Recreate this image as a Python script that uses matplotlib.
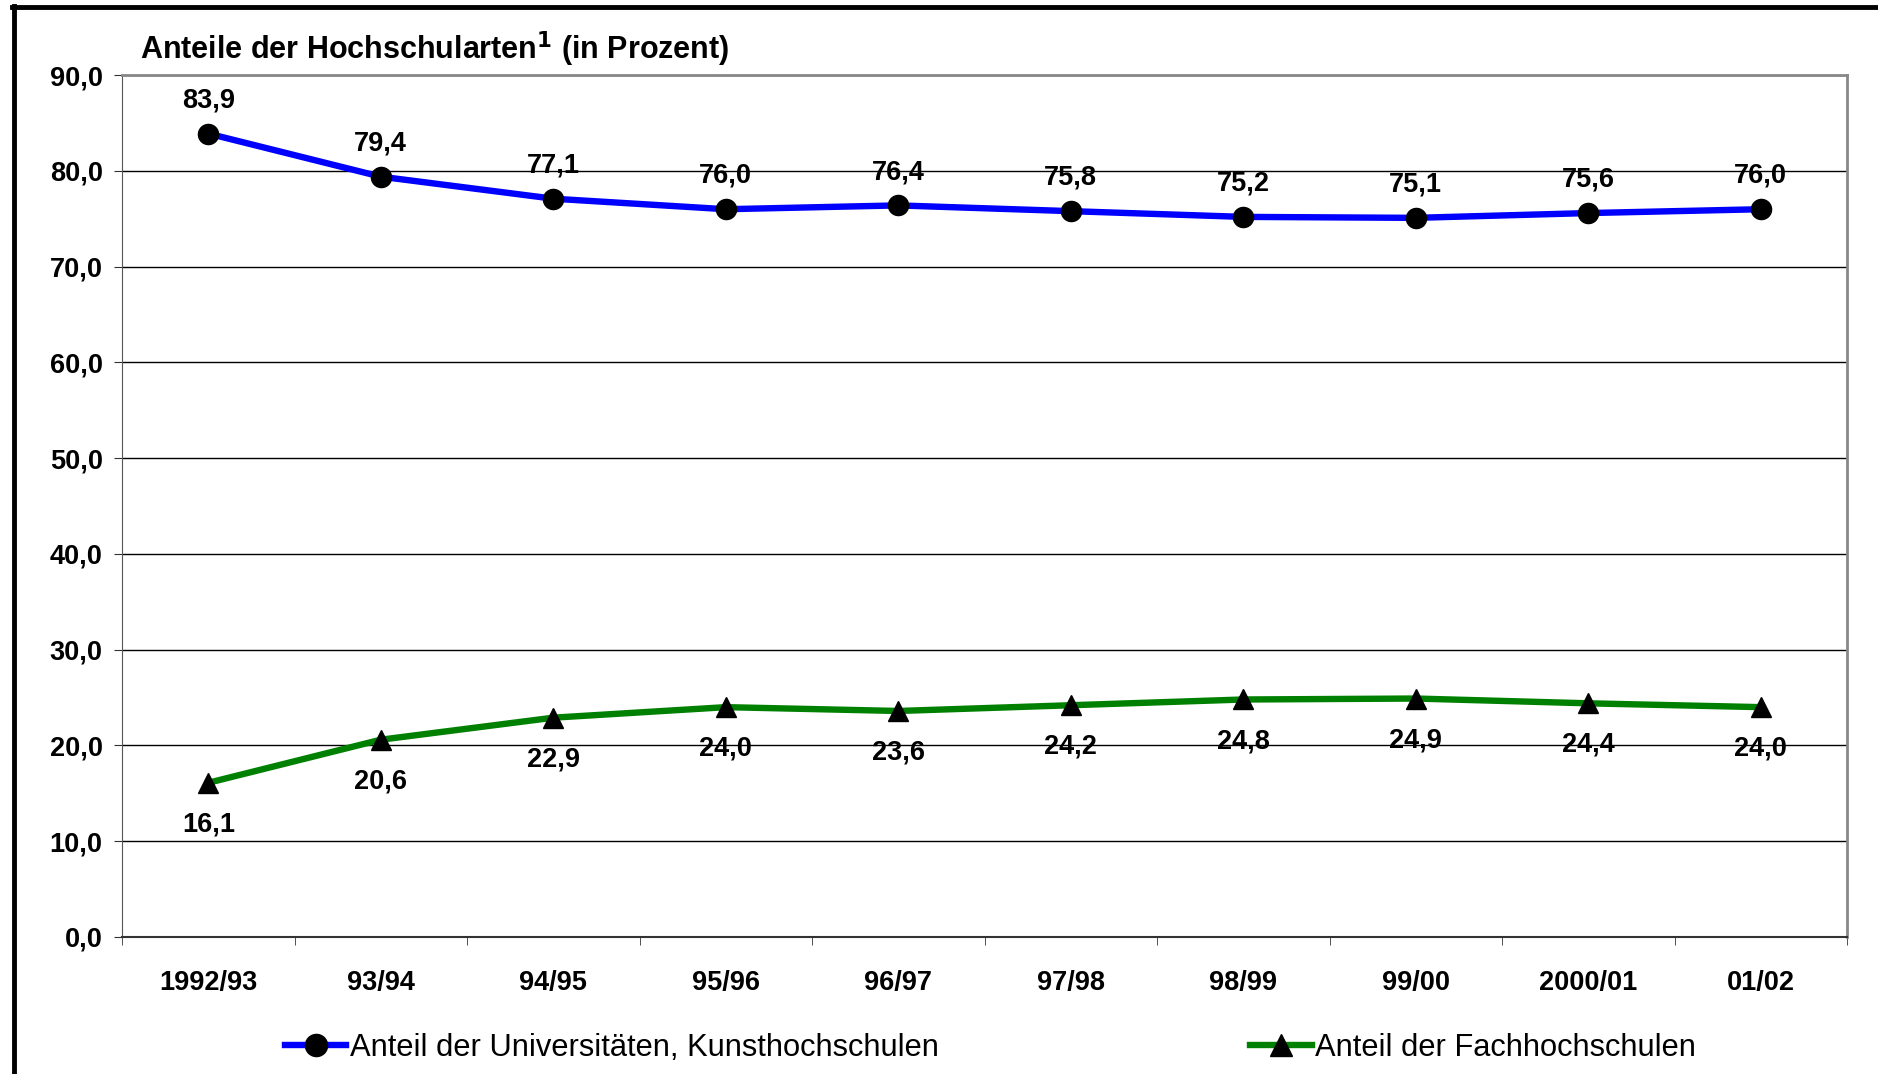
import numpy as np
import matplotlib.pyplot as plt
from matplotlib.lines import Line2D

# data
semester = ['1992/93', '93/94', '94/95', '95/96', '96/97', '97/98', '98/99', '99/00', '2000/01', '01/02']
uni = [83.9, 79.4, 77.1, 76.0, 76.4, 75.8, 75.2, 75.1, 75.6, 76.0]
fh = [16.1, 20.6, 22.9, 24.0, 23.6, 24.2, 24.8, 24.9, 24.4, 24.0]
uni_label = 'Anteil der Universitäten, Kunsthochschulen'
fh_label = 'Anteil der Fachhochschulen'

plt.rcParams['font.family'] = ['Liberation Sans', 'DejaVu Sans']

fig = plt.figure(figsize=(18.78, 10.74), dpi=100)
ax = fig.add_axes([0.065, 0.1276, 0.9185, 0.8024])

x = np.arange(len(semester))
ax.plot(x, uni, color='#0000ff', lw=4.6, marker='o', ms=14.5, mfc='black', mec='black',
        label=uni_label, zorder=5)
ax.plot(x, fh, color='#008000', lw=4.6, marker='^', ms=14.5, mfc='black', mec='black',
        label=fh_label, zorder=5)

def fmt(v):
    return f'{v:.1f}'.replace('.', ',')

for xi, v in zip(x, uni):
    ax.annotate(fmt(v), (xi, v), xytext=(0, 24), textcoords='offset points',
                ha='center', va='center', fontsize=19.5, fontweight='bold')
for xi, v in zip(x, fh):
    ax.annotate(fmt(v), (xi, v), xytext=(0, -30), textcoords='offset points',
                ha='center', va='center', fontsize=19.5, fontweight='bold')

ax.set_xlim(-0.5, len(semester) - 0.5)
ax.set_ylim(0, 90)
ax.set_yticks(np.arange(0, 91, 10))
ax.set_yticklabels([fmt(v) for v in np.arange(0, 91, 10)], fontsize=19.5, fontweight='bold')
ax.set_xticks(x)
ax.set_xticklabels(semester, fontsize=19.5, fontweight='bold')
ax.set_xticks(np.arange(-0.5, len(semester), 1), minor=True)
ax.tick_params(axis='x', which='major', length=0, pad=24)
ax.tick_params(axis='x', which='minor', length=6, direction='out', color='#333333')
ax.tick_params(axis='y', length=6, direction='out', pad=8, color='#333333')

ax.grid(axis='y', color='black', lw=1)
ax.set_axisbelow(True)
ax.spines['top'].set_color('#888888')
ax.spines['right'].set_color('#888888')
ax.spines['top'].set_linewidth(2)
ax.spines['right'].set_linewidth(2)
ax.spines['left'].set_color('#555555')
ax.spines['bottom'].set_color('#333333')
ax.spines['bottom'].set_linewidth(1.5)

fig.text(0.0745, 0.954, 'Anteile der Hochschularten$^{\\mathbf{1}}$ (in Prozent)',
         fontsize=22, fontweight='bold', va='center', ha='left')

ax.legend(loc='center left', bbox_to_anchor=(0.145, 0.024), bbox_transform=fig.transFigure,
          borderaxespad=0, ncol=2, frameon=False, fontsize=22.25, handlelength=2.0,
          handletextpad=0.1, columnspacing=10.08, markerscale=1.1)

# outer frame (left and top only visible)
fig.add_artist(Line2D([0.0075, 0.0075], [0, 0.9945], color='black', lw=3.5,
                      transform=fig.transFigure))
fig.add_artist(Line2D([0.0065, 1.0], [0.9935, 0.9935], color='black', lw=3.5,
                      transform=fig.transFigure))

fig.savefig('out.png', dpi=100)
